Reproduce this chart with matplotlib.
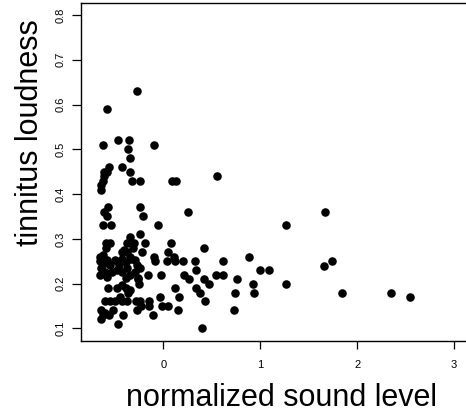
import matplotlib
matplotlib.use("Agg")
import matplotlib.pyplot as plt

plt.rcParams['font.family'] = ['Liberation Sans', 'DejaVu Sans']

# normalized sound level (x) and tinnitus loudness (y)
sound = [
    -0.27, -0.58, -0.62, -0.47, -0.35, -0.36, -0.34, -0.10, -0.43, -0.34,
    -0.56, -0.58, -0.61, -0.61, -0.62, -0.64, -0.64,
    -0.32, -0.24, 0.09, 0.13, 0.55,
    -0.57, -0.61, -0.58, -0.24, -0.21, 0.25,
    -0.62, -0.54, -0.06, 1.27, 1.67,
    -0.24, -0.34, -0.59, -0.55, -0.38, -0.30, -0.19, 0.08, 0.42,
    -0.59, -0.41, -0.38, -0.31, -0.22, -0.43,
    -0.65, -0.62, -0.65, -0.60, -0.58,
    -0.55, -0.50, -0.46, -0.43, -0.39, -0.34, -0.29, -0.27, -0.24,
    -0.64, -0.60, -0.65, -0.58, -0.53, -0.48, -0.43, -0.38, -0.34, -0.29, -0.26, -0.39,
    -0.33,
    -0.10, -0.09, 0.05, 0.04, 0.11, 0.12, 0.20, 0.33, 0.61, 0.88, 1.00, 1.09, 0.34,
    0.21, 0.26, 0.54, 0.61, 0.42, 0.47, 0.76, 0.92, 0.93, 0.74, 1.27,
    1.66, 1.74, 1.84, 2.35, 2.54,
    0.34, 0.38, 0.12, 0.16, 0.43, -0.03, -0.01, 0.05, 0.15, 0.73, 0.40,
    -0.16, -0.02, -0.26, -0.25, -0.39, -0.36, -0.57, -0.48, -0.43, -0.34,
    -0.60, -0.55, -0.50, -0.45, -0.43, -0.38,
    -0.28, -0.24, -0.23, -0.15, -0.15, -0.27, -0.11,
    -0.64, -0.60, -0.62, -0.64, -0.52, -0.56, -0.42, -0.47,
]
loudness = [
    0.63, 0.59, 0.51, 0.52, 0.52, 0.50, 0.48, 0.51, 0.46, 0.45,
    0.46, 0.45, 0.45, 0.44, 0.43, 0.42, 0.41,
    0.43, 0.43, 0.43, 0.43, 0.44,
    0.37, 0.36, 0.35, 0.37, 0.35, 0.36,
    0.33, 0.33, 0.33, 0.33, 0.36,
    0.31, 0.305, 0.29, 0.29, 0.29, 0.29, 0.29, 0.29, 0.28,
    0.28, 0.275, 0.27, 0.28, 0.27, 0.27,
    0.26, 0.264, 0.25, 0.245, 0.253,
    0.241, 0.253, 0.241, 0.256, 0.249, 0.26, 0.253, 0.241, 0.234,
    0.234, 0.226, 0.219, 0.215, 0.226, 0.230, 0.226, 0.234, 0.219, 0.226, 0.212, 0.212,
    0.256,
    0.26, 0.25, 0.27, 0.25, 0.26, 0.25, 0.25, 0.25, 0.25, 0.26, 0.23, 0.23, 0.23,
    0.22, 0.21, 0.22, 0.22, 0.21, 0.20, 0.21, 0.20, 0.18, 0.18, 0.20,
    0.24, 0.25, 0.18, 0.18, 0.17,
    0.19, 0.18, 0.19, 0.17, 0.16, 0.17, 0.15, 0.15, 0.14, 0.14, 0.10,
    0.22, 0.22, 0.21, 0.20, 0.19, 0.18, 0.19, 0.19, 0.197, 0.186,
    0.16, 0.16, 0.16, 0.17, 0.16, 0.16,
    0.16, 0.16, 0.15, 0.16, 0.15, 0.14, 0.13,
    0.14, 0.135, 0.13, 0.12, 0.14, 0.13, 0.13, 0.11,
]

x_ticks = [0, 1, 2, 3]
y_ticks = [0.1, 0.2, 0.3, 0.4, 0.5, 0.6, 0.7, 0.8]

fig = plt.figure(figsize=(4.66, 4.12), dpi=100)
ax = fig.add_axes([0.1738, 0.1723, 0.832, 0.8204])

ax.scatter(sound, loudness, s=38, color='black', linewidths=0)

ax.set_xlim(-0.85, 3.15)
ax.set_ylim(0.0716, 0.827)
ax.set_xticks(x_ticks)
ax.set_xticklabels([str(t) for t in x_ticks])
ax.set_yticks(y_ticks)
ax.set_yticklabels([f"{t:.1f}" for t in y_ticks], rotation=90, va='center')

ax.tick_params(axis='x', direction='out', length=6, width=0.9, labelsize=8, pad=7.5)
ax.tick_params(axis='y', direction='out', length=6.5, width=0.9, labelsize=8, pad=4.5)
for sp in ax.spines.values():
    sp.set_linewidth(1.0)

fig.text(282 / 466, 1 - 398 / 412, "normalized sound level", fontsize=22,
         ha='center', va='center')
fig.text(30 / 466, 1 - 133 / 412, "tinnitus loudness", fontsize=22,
         ha='center', va='center', rotation=90)

fig.savefig("out.png", dpi=100)
